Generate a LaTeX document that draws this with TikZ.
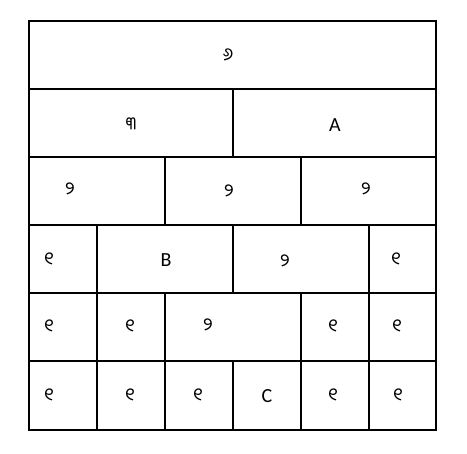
\documentclass[tikz,border=0pt]{standalone}
\usepackage{fontspec}
\setmainfont{Carlito}
\newfontfamily\oriyafont[Script=Oriya]{Noto Sans Oriya UI}
\tikzstyle{grid line}=[line width=1.2pt]
\tikzstyle{digit}=[font=\oriyafont\fontsize{18}{21}\selectfont, inner sep=0]
\tikzstyle{letter}=[font=\fontsize{20}{24}\selectfont, inner sep=0]

\begin{document}
\begin{tikzpicture}[x=1pt, y=-1pt]
      \useasboundingbox (0, 0) rectangle (467, 454);

      % frame and row lines
      \draw[grid line] (29, 21) rectangle (436, 430);
      \foreach \y in {89, 157, 225, 293, 361}
        \draw[grid line] (29, \y) -- (436, \y);

      % column lines, row by row
      \draw[grid line] (233, 89) -- (233, 157);
      \foreach \x in {165, 301}
        \draw[grid line] (\x, 157) -- (\x, 225);
      \foreach \x in {97, 233, 369}
        \draw[grid line] (\x, 225) -- (\x, 293);
      \foreach \x in {97, 165, 301, 369}
        \draw[grid line] (\x, 293) -- (\x, 361);
      \foreach \x in {97, 165, 233, 301, 369}
        \draw[grid line] (\x, 361) -- (\x, 430);

      % row 1 and 2
      \node[digit] (six) at (228, 56) {୬};
      \node[digit] (three) at (131, 125) {୩};
      \node[letter] (a) at (335, 125) {A};

      % row 3
      \node[digit] (two_a) at (70, 190) {୨};
      \node[digit] (two_b) at (229, 192) {୨};
      \node[digit] (two_c) at (366, 190) {୨};

      % row 4
      \node[digit] (one_a) at (49, 260) {୧};
      \node[letter] (b) at (166, 260) {B};
      \node[digit] (two_d) at (285, 262) {୨};
      \node[digit] (one_b) at (396, 260) {୧};

      % row 5
      \node[digit] (one_c) at (49, 327) {୧};
      \node[digit] (one_d) at (130, 327) {୧};
      \node[digit] (two_e) at (208, 326) {୨};
      \node[digit] (one_e) at (333, 327) {୧};
      \node[digit] (one_f) at (397, 327) {୧};

      % row 6
      \node[digit] (one_g) at (49, 396) {୧};
      \node[digit] (one_h) at (130, 396) {୧};
      \node[digit] (one_i) at (198, 396) {୧};
      \node[letter] (c) at (267, 396) {C};
      \node[digit] (one_j) at (333, 396) {୧};
      \node[digit] (one_k) at (398, 396) {୧};
    \end{tikzpicture}
\end{document}
